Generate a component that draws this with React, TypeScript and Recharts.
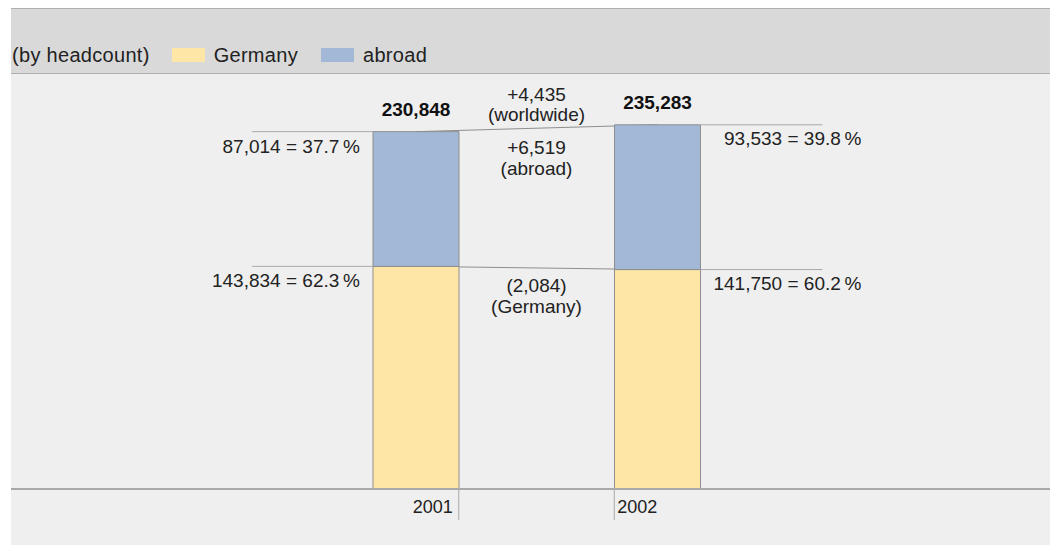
import React from 'react';
import { BarChart, Bar, XAxis, YAxis, ReferenceLine, LabelList, Legend } from 'recharts';

// headcount per region
const years = ['2001', '2002'];
const germany = [143834, 141750];
const abroad = [87014, 93533];
const germanyShare = [62.3, 60.2];
const abroadShare = [37.7, 39.8];

const totals = years.map((_, i) => germany[i] + abroad[i]);

const data = years.map((year, i) => ({
    year,
    germany: germany[i],
    abroad: abroad[i],
}));

const W = 1050;
const H = 545;
const BAR = 86;
const FONT = '"Liberation Sans", Arial, Helvetica, sans-serif';
const TEXT = '#222';
const GERMANY_FILL = '#fde6a6';
const ABROAD_FILL = '#a3b8d6';
const EDGE = '#8e8e8e';
const RULE = '#a9a9a9';

const fmt = (n: number) => String(n).replace(/\B(?=(\d{3})+(?!\d))/g, ',');
const fmtChange = (n: number) => (n < 0 ? `(${fmt(-n)})` : `+${fmt(n)}`);

const textStyle = { fontFamily: FONT, fontSize: 19, fill: TEXT };

const getBox = (props: any) => {
    const vb = props.viewBox || {};
    return {
        x: Number(vb.x ?? props.x),
        y: Number(vb.y ?? props.y),
        width: Number(vb.width ?? props.width),
        height: Number(vb.height ?? props.height),
    };
};

// "87,014 = 37.7 %" with a leader line, left of the first bar, right of the second
const sideLabel = (values: number[], shares: number[]) => (props: any) => {
    const { x, y, width } = getBox(props);
    const i = props.index;
    const text = `${fmt(values[i])} = ${shares[i].toFixed(1)}\u2009%`;
    if (i === 0) {
        return (
            <g>
                <line x1={x - 121} y1={y} x2={x} y2={y} stroke={RULE} strokeWidth={1} />
                <text x={x - 13} y={y + 21} textAnchor="end" {...textStyle}>{text}</text>
            </g>
        );
    }
    return (
        <g>
            <line x1={x + width} y1={y} x2={x + width + 122} y2={y} stroke={RULE} strokeWidth={1} />
            <text x={x + width + 161} y={y + 20} textAnchor="end" {...textStyle}>{text}</text>
        </g>
    );
};

const totalLabel = (props: any) => {
    const { x, y, width } = getBox(props);
    return (
        <text x={x + width / 2} y={y - 16} textAnchor="middle" fontFamily={FONT} fontSize={19} fontWeight="bold" fill="#111">
            {fmt(totals[props.index])}
        </text>
    );
};

const midLabel = (lines: { text: string; dy: number }[]) => (props: any) => {
    const { x, y, width, height } = getBox(props);
    const cx = x + width / 2;
    const cy = y + height / 2;
    return (
        <g>
            {lines.map((l) => (
                <text key={l.text} x={cx} y={cy + l.dy} textAnchor="middle" {...textStyle}>{l.text}</text>
            ))}
        </g>
    );
};

const YearTick = (props: any) => {
    const { x, y, payload } = props;
    const first = (props.index ?? payload.index) === 0;
    const edge = first ? x + BAR / 2 : x - BAR / 2;
    return (
        <g>
            <line x1={edge} y1={y} x2={edge} y2={y + 31} stroke={RULE} strokeWidth={1} />
            <text x={first ? edge - 6 : edge + 3} y={y + 24} textAnchor={first ? 'end' : 'start'} fontFamily={FONT} fontSize={18} fill={TEXT}>
                {payload.value}
            </text>
        </g>
    );
};

const HeaderLegend = (props: any) => {
    const items = props.payload || [];
    return (
        <div style={{ display: 'flex', alignItems: 'center', height: 24, fontFamily: FONT, fontSize: 20, letterSpacing: 0.3, color: TEXT, whiteSpace: 'nowrap' }}>
            <span style={{ marginRight: 22 }}>(by headcount)</span>
            {items.map((it: any) => (
                <span key={it.value} style={{ display: 'flex', alignItems: 'center', marginRight: 23 }}>
                    <span style={{ width: 33, height: 14, background: it.color, marginRight: 9 }} />
                    {it.value}
                </span>
            ))}
        </div>
    );
};

export default function App() {
    return (
        <div style={{ position: 'absolute', left: 0, top: 0, width: W, height: H, background: '#fff', overflow: 'hidden' }}>
            <div style={{ position: 'absolute', left: 11, top: 8, right: 0, height: 66, boxSizing: 'border-box', background: '#d9d9d9', borderTop: '1.5px solid #b0b0b0', borderBottom: '1.5px solid #b0b0b0' }} />
            <div style={{ position: 'absolute', left: 11, top: 74, right: 0, bottom: 0, background: '#efefef' }} />
            <div style={{ position: 'absolute', left: 0, top: 0 }}>
                <BarChart width={W} height={H} data={data} margin={{ top: 102, right: 0, bottom: 0, left: 11 }}>
                    <XAxis
                        dataKey="year"
                        height={56}
                        padding={{ left: 284, right: 272 }}
                        axisLine={{ stroke: RULE, strokeWidth: 2 }}
                        tickLine={false}
                        tickSize={0}
                        tickMargin={0}
                        interval={0}
                        tick={<YearTick />}
                    />
                    <YAxis hide type="number" domain={[0, 250000]} />
                    <Legend
                        layout="vertical"
                        align="center"
                        verticalAlign="middle"
                        content={<HeaderLegend />}
                        wrapperStyle={{ left: 12, top: 43, width: 700, height: 24 }}
                    />
                    <ReferenceLine
                        segment={[{ x: years[0], y: totals[0] }, { x: years[1], y: totals[1] }]}
                        stroke={EDGE}
                        zIndex={0}
                        label={midLabel([
                            { text: fmtChange(totals[1] - totals[0]), dy: -27.5 },
                            { text: '(worldwide)', dy: -7.5 },
                            { text: fmtChange(abroad[1] - abroad[0]), dy: 26 },
                            { text: '(abroad)', dy: 47 },
                        ])}
                    />
                    <ReferenceLine
                        segment={[{ x: years[0], y: germany[0] }, { x: years[1], y: germany[1] }]}
                        stroke={EDGE}
                        zIndex={0}
                        label={midLabel([
                            { text: fmtChange(germany[1] - germany[0]), dy: 24.5 },
                            { text: '(Germany)', dy: 45.5 },
                        ])}
                    />
                    <Bar dataKey="germany" name="Germany" stackId="a" fill={GERMANY_FILL} stroke={EDGE} strokeWidth={1} barSize={BAR} isAnimationActive={false}>
                        <LabelList content={sideLabel(germany, germanyShare)} />
                    </Bar>
                    <Bar dataKey="abroad" name="abroad" stackId="a" fill={ABROAD_FILL} stroke={EDGE} strokeWidth={1} barSize={BAR} isAnimationActive={false}>
                        <LabelList content={sideLabel(abroad, abroadShare)} />
                        <LabelList content={totalLabel} />
                    </Bar>
                </BarChart>
            </div>
        </div>
    );
}
